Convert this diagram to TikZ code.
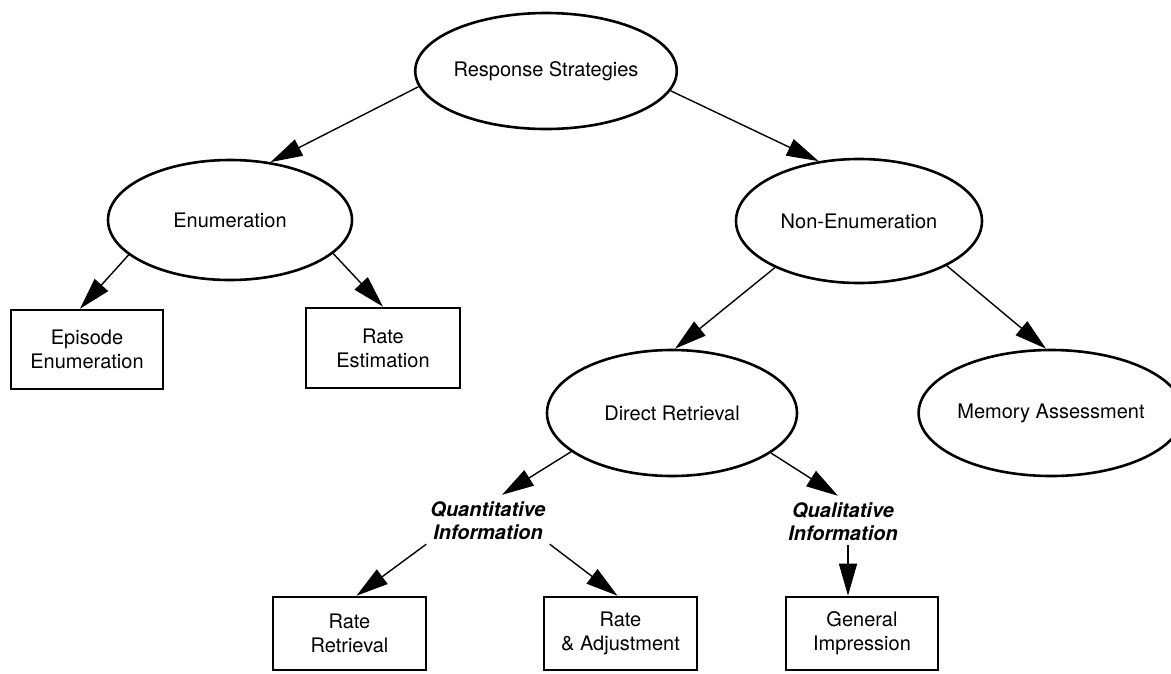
\documentclass[tikz,border=0pt]{standalone}
\usepackage{fontspec}
\setmainfont{TeX Gyre Heros}
\usetikzlibrary{shapes.geometric,arrows.meta}
\begin{document}
\begin{tikzpicture}[x=1pt,y=-1pt,
  oval/.style={ellipse,draw,line width=2.6pt,inner sep=0pt,
    font=\fontsize{20}{24}\selectfont},
  leaf/.style={rectangle,draw,line width=2.6pt,inner sep=0pt,align=center,
    font=\fontsize{20}{24}\selectfont},
  infolabel/.style={align=center,inner sep=4pt,
    font=\fontsize{20}{23}\selectfont\bfseries\itshape},
  link/.style={line width=1.4pt,-{Triangle[length=32pt,width=18pt]}}]
\useasboundingbox[fill=white] (0,0) rectangle (1171,673);

% strategy ellipses
\node[oval,minimum width=244pt,minimum height=116pt] (rs) at (546,71) {Response Strategies};
\node[oval,minimum width=244pt,minimum height=120pt] (en) at (230,220) {Enumeration};
\node[oval,minimum width=246pt,minimum height=124pt] (ne) at (859,221) {Non-Enumeration};
\node[oval,minimum width=250pt,minimum height=126pt] (dr) at (672,413) {Direct Retrieval};
\node[oval,minimum width=238pt,minimum height=126pt] (ma) at (1051,413) {Memory Assessment};

% terminal strategies
\node[leaf,minimum width=152pt,minimum height=79pt] (ep) at (87,349.5) {Episode\\Enumeration};
\node[leaf,minimum width=154pt,minimum height=80pt] (re) at (383,348) {Rate\\Estimation};
\node[leaf,minimum width=153pt,minimum height=73pt] (rr) at (349.5,633.5) {Rate\\Retrieval};
\node[leaf,minimum width=153pt,minimum height=73pt] (ra) at (620.5,633.5) {Rate\\\& Adjustment};
\node[leaf,minimum width=152pt,minimum height=73pt] (gi) at (862,633.5) {General\\Impression};

% kinds of retrieved information
\node[infolabel] (qn) at (488,521) {Quantitative\\Information};
\node[infolabel] (ql) at (843,522) {Qualitative\\Information};

% connectors
\draw[link] (rs.187) -- (en.55);
\draw[link] (rs.351.5) -- (ne.124);
\draw[link] (en.199) -- ([xshift=-7pt]ep.north);
\draw[link] (en.342) -- (re.north);
\draw[link] (ne.209) -- ([xshift=3pt]dr.north);
\draw[link] (ne.333.7) -- ([xshift=-5pt]ma.north);
\draw[link] (dr.201.8) -- ([xshift=14pt,yshift=3pt]qn.north);
\draw[link] (dr.338.2) -- ([xshift=-5pt,yshift=3pt]ql.north);
\draw[link] (qn.south west) -- ([xshift=7pt]rr.north);
\draw[link] (qn.south east) -- ([xshift=-3pt]ra.north);
\coordinate (qlfoot) at ([xshift=5pt]ql.south);
\draw[link] (qlfoot) -- (qlfoot |- gi.north);
\end{tikzpicture}
\end{document}
